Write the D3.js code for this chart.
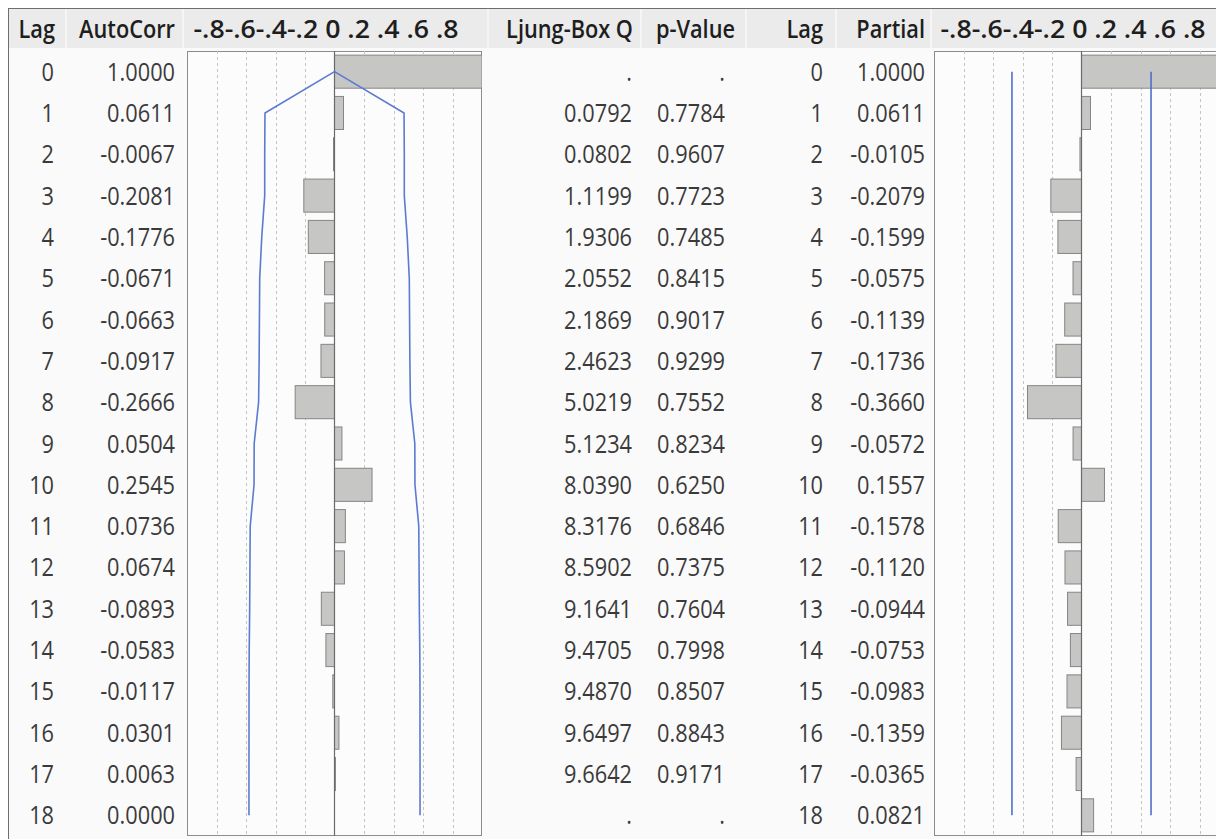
<!DOCTYPE html>
<html>
<head>
<meta charset="utf-8">
<script src="https://cdn.jsdelivr.net/npm/d3@7"></script>
<style>
  html, body { margin: 0; padding: 0; background: #ffffff; }
  svg { display: block; }
  text { font-family: "Open Sans", "Noto Sans", sans-serif; }
</style>
</head>
<body>
<svg id="chart" width="1216" height="839"></svg>
<script>
// ---------------- data ----------------
const lags = [0, 1, 2, 3, 4, 5, 6, 7, 8, 9, 10, 11, 12, 13, 14, 15, 16, 17, 18];
const autoCorr = [1.0000, 0.0611, -0.0067, -0.2081, -0.1776, -0.0671, -0.0663, -0.0917, -0.2666, 0.0504,
                  0.2545, 0.0736, 0.0674, -0.0893, -0.0583, -0.0117, 0.0301, 0.0063, 0.0000];
const ljungBoxQ = [null, 0.0792, 0.0802, 1.1199, 1.9306, 2.0552, 2.1869, 2.4623, 5.0219, 5.1234,
                   8.0390, 8.3176, 8.5902, 9.1641, 9.4705, 9.4870, 9.6497, 9.6642, null];
const pValue = [null, 0.7784, 0.9607, 0.7723, 0.7485, 0.8415, 0.9017, 0.9299, 0.7552, 0.8234,
                0.6250, 0.6846, 0.7375, 0.7604, 0.7998, 0.8507, 0.8843, 0.9171, null];
const partial = [1.0000, 0.0611, -0.0105, -0.2079, -0.1599, -0.0575, -0.1139, -0.1736, -0.3660, -0.0572,
                 0.1557, -0.1578, -0.1120, -0.0944, -0.0753, -0.0983, -0.1359, -0.0365, 0.0821];
// confidence band of the autocorrelation plot
const acfLimit = [0, 0.4714, 0.4732, 0.4732, 0.4931, 0.5071, 0.5091, 0.5110, 0.5146, 0.5445,
                  0.5455, 0.5713, 0.5734, 0.5751, 0.5782, 0.5795, 0.5796, 0.5799, 0.5799];
const pacfLimit = 0.4714;
const gridTicks = [-0.8, -0.6, -0.4, -0.2, 0.2, 0.4, 0.6, 0.8];
const tickLabels = ["-.8", "-.6", "-.4", "-.2", "0", ".2", ".4", ".6", ".8"];

// ---------------- layout ----------------
const W = 1216, H = 839;
const plotTop = 51, plotBottom = 836;
const headerTop = 9, headerBottom = 48;
const FS = 25, SX = 0.87;
const svg = d3.select("#chart");

const y = d3.scaleBand().domain(lags).range([plotTop, plotBottom]).paddingInner(0.2).paddingOuter(0.1);
const yc = d => y(d) + y.bandwidth() / 2;

const xL = d3.scaleLinear().domain([-1, 1]).range([187, 482]);
const xR = d3.scaleLinear().domain([-1, 1]).range([934, 1229]);

// body background
svg.append("rect").attr("x", 9).attr("y", headerBottom).attr("width", W - 9).attr("height", H - headerBottom)
  .attr("fill", "#fafafa");
// header band
svg.append("rect").attr("x", 9).attr("y", headerTop).attr("width", W - 9).attr("height", headerBottom - headerTop)
  .attr("fill", "#ebebeb");
// header separators
[66, 183, 488, 641, 746, 836, 931].forEach(sx => {
  svg.append("line").attr("x1", sx).attr("x2", sx).attr("y1", headerTop).attr("y2", headerBottom)
    .attr("stroke", "#f6f4f4").attr("stroke-width", 2);
});
// outer frame
svg.append("line").attr("x1", 8).attr("x2", W).attr("y1", 8.5).attr("y2", 8.5).attr("stroke", "#6e6e6e");
svg.append("line").attr("x1", 8.5).attr("x2", 8.5).attr("y1", 8).attr("y2", H).attr("stroke", "#6e6e6e");

function txt(x, yy, s, opts = {}) {
  svg.append("text")
    .attr("transform", `translate(${x},${yy}) scale(${SX},1)`)
    .attr("text-anchor", opts.anchor || "end")
    .attr("font-size", FS)
    .attr("font-weight", opts.bold ? 600 : 400)
    .attr("fill", opts.color || "#3a3a3a")
    .text(s);
}

// headers
const hb = 38;
txt(55, hb, "Lag", { bold: true, color: "#1e1e1e" });
txt(175, hb, "AutoCorr", { bold: true, color: "#1e1e1e" });
txt(633, hb, "Ljung-Box Q", { bold: true, color: "#1e1e1e" });
txt(735, hb, "p-Value", { bold: true, color: "#1e1e1e" });
txt(823, hb, "Lag", { bold: true, color: "#1e1e1e" });
txt(925, hb, "Partial", { bold: true, color: "#1e1e1e" });

function tickHeader(scale) {
  const x0 = scale(0);
  const str = tickLabels.slice(0, 4).join("") + " " + tickLabels.slice(4).join(" ");
  svg.append("text")
    .attr("x", x0 - 141).attr("y", hb)
    .attr("textLength", 265).attr("lengthAdjust", "spacingAndGlyphs")
    .attr("font-size", FS).attr("font-weight", 600).attr("fill", "#1e1e1e")
    .text(str);
}
tickHeader(xL);
tickHeader(xR);

// table values
const fmt = v => v == null ? "." : v.toFixed(4);
const base = d => yc(d) + 9;
lags.forEach((lag, i) => {
  txt(54, base(lag), String(lag));
  txt(175, base(lag), fmt(autoCorr[i]));
  txt(632, base(lag), fmt(ljungBoxQ[i]));
  txt(725, base(lag), fmt(pValue[i]));
  txt(823, base(lag), String(lag));
  txt(925, base(lag), fmt(partial[i]));
});

// ---------------- plots ----------------
function plot(scale, values, clipId) {
  const g = svg.append("g");
  const x0 = scale(-1), x1 = scale(1);
  svg.append("clipPath").attr("id", clipId).append("rect")
    .attr("x", x0).attr("y", plotTop).attr("width", x1 - x0).attr("height", plotBottom - plotTop);
  g.append("rect").attr("x", x0 + 0.5).attr("y", plotTop + 0.5).attr("width", x1 - x0 - 1).attr("height", plotBottom - plotTop - 1)
    .attr("fill", "#fcfcfc").attr("stroke", "#8c8c8c");
  const inner = g.append("g").attr("clip-path", `url(#${clipId})`);
  inner.selectAll("line.grid").data(gridTicks).join("line").attr("class", "grid")
    .attr("x1", d => Math.round(scale(d)) + 0.5).attr("x2", d => Math.round(scale(d)) + 0.5)
    .attr("y1", plotTop).attr("y2", plotBottom)
    .attr("stroke", "#c4c4c4").attr("stroke-dasharray", "3,3");
  inner.selectAll("rect.bar").data(lags).join("rect").attr("class", "bar")
    .attr("x", (d, i) => scale(Math.min(0, values[i])))
    .attr("y", d => y(d))
    .attr("width", (d, i) => Math.abs(scale(values[i]) - scale(0)))
    .attr("height", y.bandwidth())
    .attr("fill", "#c6c6c4").attr("stroke", "#858585");
  inner.append("line").attr("x1", scale(0)).attr("x2", scale(0)).attr("y1", plotTop).attr("y2", plotBottom)
    .attr("stroke", "#6a6a6a").attr("stroke-width", 1.2);
  return inner;
}

const left = plot(xL, autoCorr, "clipL");
const lineUp = d3.line().x((d, i) => xL(acfLimit[i])).y(d => yc(d));
const lineDn = d3.line().x((d, i) => xL(-acfLimit[i])).y(d => yc(d));
left.append("path").attr("d", lineUp(lags)).attr("fill", "none").attr("stroke", "#5b7bd0").attr("stroke-width", 1.6);
left.append("path").attr("d", lineDn(lags)).attr("fill", "none").attr("stroke", "#5b7bd0").attr("stroke-width", 1.6);

const right = plot(xR, partial, "clipR");
[-pacfLimit, pacfLimit].forEach(v => {
  right.append("line").attr("x1", xR(v)).attr("x2", xR(v))
    .attr("y1", yc(lags[0])).attr("y2", yc(lags[lags.length - 1]))
    .attr("stroke", "#4f6fc8").attr("stroke-width", 1.6);
});
</script>
</body>
</html>
